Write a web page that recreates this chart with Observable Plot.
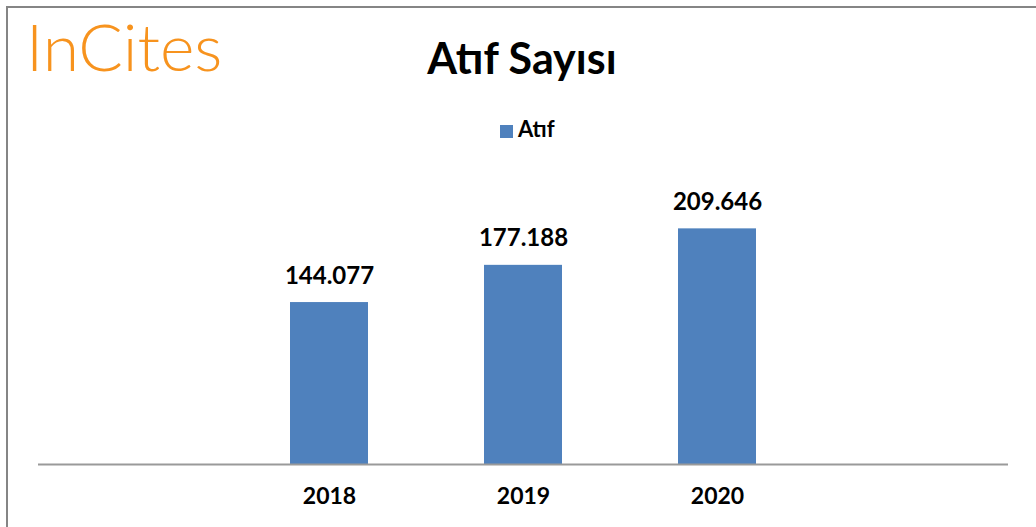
<!DOCTYPE html>
<html>
<head>
<meta charset="utf-8">
<script src="https://cdn.jsdelivr.net/npm/d3@7"></script>
<script src="https://cdn.jsdelivr.net/npm/@observablehq/plot@0.6"></script>
<style>
  html, body { margin: 0; padding: 0; background: #fff; }
  body { position: relative; width: 1036px; height: 527px; overflow: hidden; font-family: Lato, "Open Sans", sans-serif; }
  #frame { position: absolute; left: 6px; top: 6px; width: 1040px; height: 530px; border-left: 2px solid #858585; border-top: 2px solid #858585; box-sizing: border-box; }
  #logo { position: absolute; left: 26px; top: 13px; font-size: 66px; line-height: 66px; color: #F7931E; font-weight: 300; white-space: nowrap; }
  #title { position: absolute; left: 0; width: 1044px; top: 36px; text-align: center; font-size: 43px; line-height: 43px; font-weight: bold; color: #000; }
  #legend { position: absolute; left: 500px; top: 118px; font-size: 22px; line-height: 22px; font-weight: bold; color: #000; white-space: nowrap; }
  #legend .sw { display: inline-block; width: 13px; height: 13px; background: #4F81BD; margin-right: 5px; vertical-align: -1px; }
  #chart { position: absolute; left: 0; top: 100px; }
</style>
</head>
<body>
<div id="frame"></div>
<div id="logo">InCites</div>
<div id="title">Atıf Sayısı</div>
<div id="legend"><span class="sw"></span>Atıf</div>
<div id="chart"></div>
<script>
const years = ["2018", "2019", "2020"];
const values = [144077, 177188, 209646];
const seriesName = "Atıf";
const xSlots = [" ", ...years, "  "];

const data = years.map((y, i) => ({year: y, value: values[i]}));
const trFormat = d3.formatLocale({decimal: ",", thousands: ".", grouping: [3], currency: ["₺", ""]}).format(",");

const plot = Plot.plot({
  width: 1036,
  height: 427,
  marginLeft: 38,
  marginRight: 28,
  marginTop: 83,
  marginBottom: 63,
  style: {fontFamily: "Lato, 'Open Sans', sans-serif", fontSize: "23px", fontWeight: "bold", color: "#000", background: "transparent"},
  x: {domain: xSlots, paddingInner: 0.6, paddingOuter: 0.3, label: null},
  y: {domain: [0, 250000], axis: null},
  marks: [
    Plot.barY(data, {x: "year", y: "value", fill: "#4F81BD"}),
    Plot.ruleY([0], {stroke: "#9a9a9a", strokeWidth: 2}),
    Plot.text(data, {x: "year", y: "value", text: d => trFormat(d.value), dy: -19, lineAnchor: "bottom", fill: "#000", fontSize: 24, fontWeight: "bold"}),
    Plot.axisX({tickSize: 0, tickPadding: 23, tickFormat: d => d.trim(), fontSize: 23, fontWeight: "bold", fill: "#000"})
  ]
});
document.getElementById("chart").appendChild(plot);
</script>
</body>
</html>
